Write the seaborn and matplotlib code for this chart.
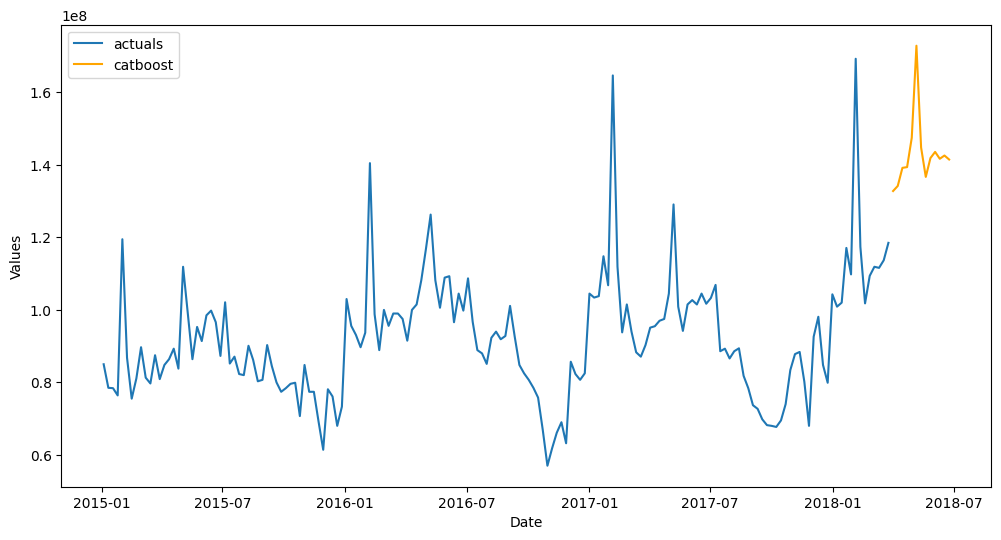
"""
Weekly actuals vs catboost forecast.
"""

import pandas as pd
import numpy as np
import matplotlib
matplotlib.use("Agg")
import matplotlib.pyplot as plt
import seaborn as sns

# ── Data (values in units of 1e8) ────────────────────────────────────────────
actuals_start = "2015-01-04"
actuals_vals = [
    0.850, 0.785, 0.784, 0.764, 1.195, 0.868, 0.755, 0.811, 0.897, 0.813,
    0.797, 0.875, 0.809, 0.848, 0.864, 0.893, 0.838, 1.119, 0.990, 0.864,
    0.953, 0.914,
    0.985, 0.998, 0.966, 0.873, 1.021, 0.852, 0.871, 0.823, 0.820, 0.901,
    0.862, 0.803, 0.807, 0.903, 0.845, 0.800, 0.774, 0.784, 0.796, 0.799,
    0.707, 0.848, 0.774,
    0.774, 0.692, 0.614, 0.781, 0.761, 0.680, 0.733, 1.030, 0.956, 0.931,
    0.897, 0.937, 1.405, 0.988, 0.889, 1.000, 0.956, 0.990, 0.990, 0.975,
    0.915, 1.000,
    1.015, 1.082, 1.169, 1.263, 1.082, 1.006, 1.089, 1.093, 0.966, 1.045,
    0.998, 1.087, 0.967, 0.889, 0.880, 0.851, 0.923, 0.940, 0.919, 0.928,
    1.011, 0.926, 0.848,
    0.825, 0.807, 0.785, 0.758, 0.669, 0.570, 0.618, 0.661, 0.690, 0.632,
    0.857, 0.823, 0.807, 0.825, 1.045, 1.034, 1.038, 1.148, 1.068, 1.647,
    1.119, 0.938,
    1.015, 0.940, 0.883, 0.871, 0.903, 0.951, 0.955, 0.970, 0.975, 1.045,
    1.291, 1.009, 0.942, 1.015, 1.027, 1.015, 1.045, 1.017, 1.033, 1.069,
    0.886, 0.893, 0.866,
    0.886, 0.894, 0.818, 0.784, 0.737, 0.727, 0.698, 0.682, 0.680, 0.677,
    0.695, 0.740, 0.834, 0.878, 0.884, 0.802, 0.680, 0.926, 0.981, 0.848,
    0.799, 1.043,
    1.009, 1.020, 1.171, 1.098, 1.693, 1.174, 1.018, 1.094, 1.119, 1.116,
    1.137, 1.185,
]
catboost_vals = [
    1.328, 1.342, 1.392, 1.394, 1.475, 1.729, 1.448, 1.367, 1.419, 1.436,
    1.417, 1.426, 1.415,
]

actuals = pd.Series(np.array(actuals_vals) * 1e8,
                    index=pd.date_range(actuals_start, periods=len(actuals_vals), freq="W"))
catboost = pd.Series(np.array(catboost_vals) * 1e8,
                     index=pd.date_range(actuals.index[-1] + pd.Timedelta(weeks=1),
                                         periods=len(catboost_vals), freq="W"))

# ── Plot ─────────────────────────────────────────────────────────────────────
fig, ax = plt.subplots(figsize=(12, 6))
sns.lineplot(x=actuals.index, y=actuals.values, ax=ax, label="actuals", color="#1f77b4")
sns.lineplot(x=catboost.index, y=catboost.values, ax=ax, label="catboost", color="orange")
ax.set_xlabel("Date")
ax.set_ylabel("Values")
ax.legend(loc="upper left")

plt.savefig("out.png", dpi=100, bbox_inches="tight")
